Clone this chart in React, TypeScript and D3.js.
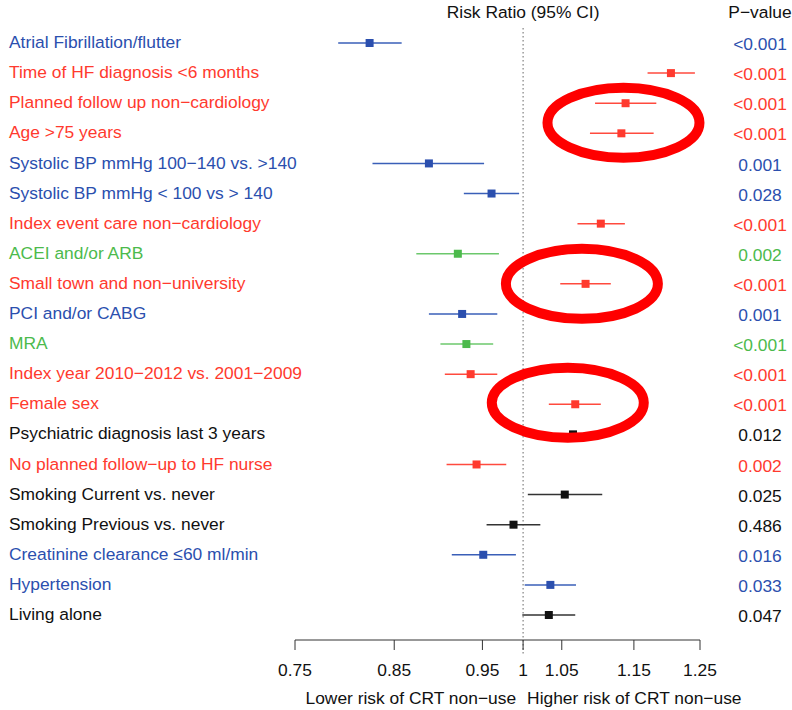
import React from "react";
import * as d3 from "d3";

const labels = [
  "Atrial Fibrillation/flutter",
  "Time of HF diagnosis <6 months",
  "Planned follow up non\u2212cardiology",
  "Age >75 years",
  "Systolic BP mmHg 100\u2212140 vs. >140",
  "Systolic BP mmHg < 100 vs > 140",
  "Index event care non\u2212cardiology",
  "ACEI and/or ARB",
  "Small town and non\u2212university",
  "PCI and/or CABG",
  "MRA",
  "Index year 2010\u22122012 vs. 2001\u22122009",
  "Female sex",
  "Psychiatric diagnosis last 3 years",
  "No planned follow\u2212up to HF nurse",
  "Smoking Current vs. never",
  "Smoking Previous vs. never",
  "Creatinine clearance \u226460 ml/min",
  "Hypertension",
  "Living alone",
];
const groups = ["blue","red","red","red","blue","blue","red","green","red","blue","green","red","red","black","red","black","black","blue","blue","black"];
const rr = [0.824,1.205,1.138,1.132,0.888,0.961,1.103,0.921,1.082,0.926,0.931,0.936,1.068,1.065,0.943,1.054,0.988,0.951,1.035,1.033];
const lower = [0.792,1.170,1.095,1.088,0.827,0.928,1.071,0.874,1.048,0.888,0.901,0.906,1.033,1.035,0.908,1.006,0.955,0.914,1.002,0.999];
const upper = [0.858,1.242,1.183,1.179,0.952,0.995,1.137,0.970,1.117,0.968,0.963,0.968,1.103,1.095,0.979,1.105,1.022,0.991,1.069,1.068];
const pvalues = ["<0.001","<0.001","<0.001","<0.001","0.001","0.028","<0.001","0.002","<0.001","0.001","<0.001","<0.001","<0.001","0.012","0.002","0.025","0.486","0.016","0.033","0.047"];
const ticks = [0.75, 0.85, 0.95, 1, 1.05, 1.15, 1.25];
// annotation ellipses: centred on row positions (fractional row index) and risk ratio
const ellipseRows = [2.65, 8, 11.95];
const ellipseRR = [1.135, 1.077, 1.058];

const colorMap: Record<string, string> = {
  blue: "#2b4fae",
  red: "#ff3a2e",
  green: "#4cba4c",
  black: "#111111",
};
const lineColorMap: Record<string, string> = {
  blue: "#3a5fb8",
  red: "#ff4a3e",
  green: "#6cc86c",
  black: "#333333",
};

export default function App() {
  const W = 792, H = 710;
  const x = d3.scaleLog().domain([0.75, 1.25]).range([295, 700]);
  const rowIdx = d3.range(labels.length);
  const y = d3.scaleLinear().domain([0, labels.length - 1]).range([43, 615]);
  const axisY = 640;
  const font = "Liberation Sans, Arial, Helvetica, sans-serif";
  const fs = 17.4;
  const pX = 760;
  const sq = 8;

  return (
    <svg width={W} height={H} style={{ position: "absolute", left: 0, top: 0, background: "#fff" }} fontFamily={font}>
      {/* title */}
      <text x={x(1)} y={18} textAnchor="middle" fontSize={fs} fill="#111">Risk Ratio (95% CI)</text>
      <text x={pX} y={18} textAnchor="middle" fontSize={fs} fill="#111">P{"\u2212"}value</text>
      {/* reference dotted line */}
      <line x1={x(1)} x2={x(1)} y1={28} y2={654} stroke="#666" strokeWidth={1} strokeDasharray="1.5,2.5" />
      {/* rows */}
      {rowIdx.map((i) => {
        const c = colorMap[groups[i]];
        const lc = lineColorMap[groups[i]];
        const yy = y(i);
        return (
          <g key={i}>
            <text x={9} y={yy - 1} dy="0.35em" fontSize={fs} fill={c}>{labels[i]}</text>
            <line x1={x(lower[i])} x2={x(upper[i])} y1={yy} y2={yy} stroke={lc} strokeWidth={1.5} />
            <rect x={x(rr[i]) - sq / 2} y={yy - sq / 2} width={sq} height={sq} fill={c} />
            <text x={pX} y={yy + 1} dy="0.35em" textAnchor="middle" fontSize={fs} fill={c}>{pvalues[i]}</text>
          </g>
        );
      })}
      {/* annotation ellipses */}
      {ellipseRows.map((r, k) => (
        <ellipse key={k} cx={x(ellipseRR[k])} cy={y(r)} rx={76} ry={35} fill="none" stroke="#ff0000" strokeWidth={10} />
      ))}
      {/* axis */}
      <line x1={x(0.75)} x2={x(1.25)} y1={axisY} y2={axisY} stroke="#333" strokeWidth={1} />
      {ticks.map((t) => (
        <g key={t}>
          <line x1={x(t)} x2={x(t)} y1={axisY} y2={axisY + 10} stroke="#333" strokeWidth={1} />
          <text x={x(t)} y={676} textAnchor="middle" fontSize={fs} fill="#111">{String(t)}</text>
        </g>
      ))}
      <text x={x(1) - 7} y={704} textAnchor="end" fontSize={fs} fill="#111">Lower risk of CRT non{"\u2212"}use</text>
      <text x={x(1) + 4} y={704} textAnchor="start" fontSize={fs} fill="#111">Higher risk of CRT non{"\u2212"}use</text>
    </svg>
  );
}
